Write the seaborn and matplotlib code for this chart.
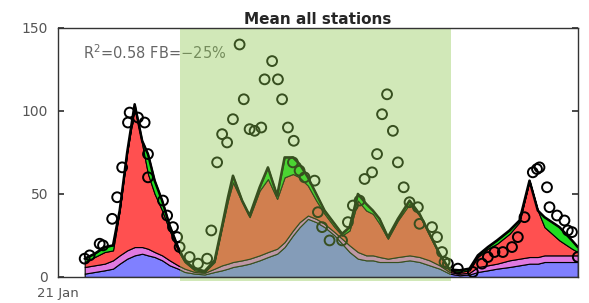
import numpy as np
import pandas as pd
import matplotlib
matplotlib.use("Agg")
import matplotlib.pyplot as plt
import seaborn as sns
from matplotlib.patches import Rectangle

# ---------------- DATA ----------------
# time in hours since 21 Jan 00:00
hours = [32, 44, 56, 66, 74, 83, 92, 101, 108, 116, 125, 134, 144, 152, 164, 176,
         188, 197, 204, 210, 221, 230, 242, 252, 263, 272, 282, 290, 300, 310, 320,
         332, 341, 350, 360, 370, 378, 386, 396, 408, 422, 434, 446, 458, 470, 482,
         494, 504, 516, 527, 542, 554, 566, 576, 584, 602, 617, 624]

# stacked contributions (bottom to top)
blue = [2, 3, 4, 5, 8, 11, 13, 14, 13, 12, 10, 7, 5, 3, 2, 1.5,
        3, 4, 5, 6, 7, 8, 10, 12, 14, 18, 25, 30, 35, 33, 30,
        25, 20, 15, 11, 10, 10, 9, 9, 9, 10, 9, 7, 5, 2, 1,
        1.5, 3, 4, 5, 6, 7, 8, 8, 9, 9, 9, 9]
pink = [4, 4, 4, 5, 5, 5, 5, 4, 4, 3, 3, 3, 2, 2, 1, 1,
        2, 3, 3, 3, 3, 3, 3, 3, 3, 3, 3, 3, 2, 2, 2,
        2, 3, 4, 4, 3, 3, 3, 2, 3, 3, 3, 3, 2, 1, 1,
        1, 3, 3, 3, 4, 4, 4, 4, 4, 4, 4, 4]
red = [3, 5, 7, 6, 27, 59, 84, 62, 45, 35, 27, 18, 9, 4, 1, 0.5,
       4, 23, 38, 48, 35, 25, 39, 44, 30, 39, 34, 27, 18, 11, 6,
       3, 2, 9, 31, 27, 25, 20, 12, 22, 31, 25, 15, 6, 1, 1,
       1.5, 6, 10, 12, 16, 22, 46, 28, 17, 9, 4, 2]
green = [2, 2, 3, 3, 0, 0, 2, 2, 12, 8, 6, 3, 2, 1, 1, 0.5,
         1, 1, 2, 4, 1, 1, 2, 7, 2, 12, 10, 8, 5, 4, 2,
         2, 1, 2, 4, 4, 2, 3, 1, 1, 2, 1, 1, 1, 0.5, 1,
         1, 1, 1, 2, 2, 1, 0, 0, 6, 8, 5, 3]

# observed station mean
obs_hours = [32, 38, 50, 54, 65, 71, 77, 84, 86, 96, 104, 108, 108, 126, 131, 138,
             143, 146, 158, 168, 179, 184, 191, 197, 203, 210, 218, 223, 230, 236,
             244, 248, 257, 264, 269, 276, 283, 282, 290, 296, 308, 312, 317, 326,
             341, 348, 354, 362, 368, 377, 383, 389, 395, 402, 408, 415, 422, 432,
             434, 449, 455, 461, 464, 468, 480, 498, 509, 516, 524, 534, 545, 552,
             560, 570, 575, 578, 587, 590, 599, 608, 612, 617, 624]
obs_vals = [11, 13, 20, 19, 35, 48, 66, 93, 99, 96, 93, 60, 74, 46, 37, 30,
            24, 18, 12, 8, 11, 28, 69, 86, 81, 95, 140, 107, 89, 88,
            90, 119, 130, 119, 107, 90, 82, 69, 64, 60, 58, 39, 30, 22,
            22, 33, 43, 46, 59, 63, 74, 98, 110, 88, 69, 54, 45, 42,
            32, 30, 24, 15, 9, 8, 5, 3, 8, 12, 15, 15, 18, 24,
            36, 63, 65, 66, 54, 42, 37, 34, 28, 27, 12]

shade_start, shade_end = 146, 472
stats_text = "R$^2$=0.58 FB=\u221225%"

# ---------------- PLOT ----------------
sns.set_theme(style="white")
plt.rcParams["font.family"] = ["DejaVu Sans"]
plt.rcParams["mathtext.fontset"] = "dejavusans"

fig, ax = plt.subplots(figsize=(5.89, 3.03), dpi=100)
fig.subplots_adjust(left=0.0985, right=0.981, bottom=0.086, top=0.908)

ax.stackplot(hours, blue, pink, red, green,
             colors=["#8080ff", "#e07ae0", "#ff5050", "#20dd20"],
             edgecolor="black", linewidth=0.8, zorder=2)

total = pd.DataFrame({"hours": hours,
                      "total": np.array(blue) + np.array(pink) + np.array(red) + np.array(green)})
sns.lineplot(data=total, x="hours", y="total", color="black", linewidth=1.8, ax=ax, zorder=3)

obs = pd.DataFrame({"hours": obs_hours, "obs": obs_vals})
sns.scatterplot(data=obs, x="hours", y="obs", marker="o", s=50,
                facecolor="none", edgecolor="black", linewidth=1.4, ax=ax, zorder=4)

ax.text(30, 135, stats_text, fontsize=10.5, color="#666666", ha="left", va="center", zorder=5)

# shaded period drawn over everything
ax.add_patch(Rectangle((shade_start, -2.5), shade_end - shade_start, 152.5,
                       facecolor=(0.55, 0.78, 0.31), alpha=0.4, edgecolor="none",
                       clip_on=False, zorder=8))

ax.set_xlim(0, 624)
ax.set_ylim(0, 150)
ax.set_yticks([0, 50, 100, 150])
ax.set_xticks([0])
ax.set_xticklabels(["21 Jan"])
ax.set_xlabel("")
ax.set_ylabel("")
ax.set_title("Mean all stations", fontsize=11, fontweight="bold", pad=3)

ax.tick_params(axis="y", direction="in", left=True, right=True, length=4,
               labelsize=10, labelcolor="#555555", color="#333333", pad=7)
ax.tick_params(axis="x", direction="in", bottom=True, length=0,
               labelsize=9.5, labelcolor="#555555", pad=7)
for s in ax.spines.values():
    s.set_color("#333333")
    s.set_linewidth(1.0)
    s.set_zorder(9)

plt.savefig("out.png", dpi=100)
